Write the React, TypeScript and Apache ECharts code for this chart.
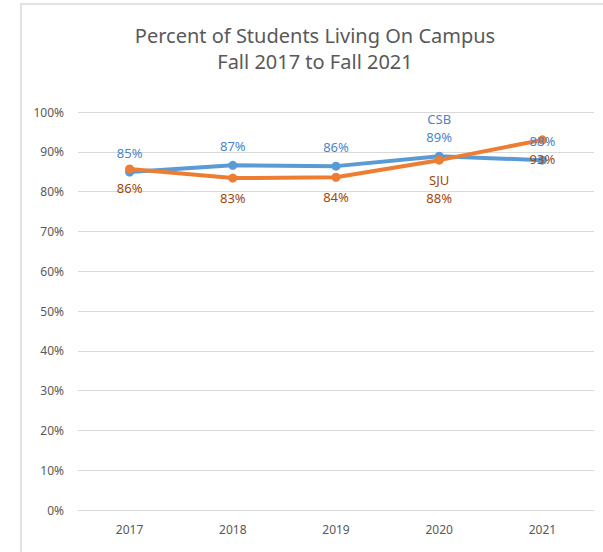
import React, { useEffect, useRef } from "react";
import * as echarts from "echarts";

const years = ["2017", "2018", "2019", "2020", "2021"];
const csbValues = [84.9, 86.6, 86.4, 88.9, 87.9];
const sjuValues = [85.7, 83.4, 83.6, 87.9, 93.0];
const csbLabels = ["85%", "87%", "86%", "89%", "88%"];
const sjuLabels = ["86%", "83%", "84%", "88%", "93%"];
const yTicks = [0, 10, 20, 30, 40, 50, 60, 70, 80, 90, 100];

const FONT = "Noto Sans";

export default function App() {
  const ref = useRef<HTMLDivElement>(null);
  useEffect(() => {
    if (!ref.current) return;
    const chart = echarts.init(ref.current, null, { renderer: "svg" });
    const mk = (vals: number[], labels: string[], name: string, showNameAt: number) =>
      vals.map((v, i) => ({
        value: v,
        label: {
          formatter: i === showNameAt ? `${name}\n${labels[i]}` : labels[i],
        },
      }));
    const csbLabelStyle = {
      show: true,
      position: "top",
      distance: 6,
      color: "#4a86c8",
      fontFamily: FONT,
      fontSize: 13,
      lineHeight: 18,
    };
    const sjuLabelStyle = {
      show: true,
      position: "bottom",
      distance: 6,
      color: "#9e480e",
      fontFamily: FONT,
      fontSize: 13,
      lineHeight: 18,
    };
    chart.setOption({
      animation: false,
      backgroundColor: "#ffffff",
      title: {
        text: "Percent of Students Living On Campus\nFall 2017 to Fall 2021",
        left: 315,
        textAlign: "center",
        top: 22,
        padding: 0,
        textStyle: {
          fontFamily: FONT,
          fontSize: 20,
          fontWeight: "normal",
          color: "#595959",
          lineHeight: 26,
        },
      },
      graphic: [
        {
          type: "rect",
          shape: { x: 21, y: 4, width: 700, height: 700 },
          style: { fill: "none", stroke: "#d9d9d9", lineWidth: 1.5 },
          silent: true,
        },
      ],
      grid: { left: 78, right: 9, top: 112, bottom: 42, containLabel: false },
      xAxis: {
        type: "category",
        data: years,
        axisLine: { show: false },
        axisTick: { show: false },
        axisLabel: { color: "#595959", fontFamily: FONT, fontSize: 12, margin: 13 },
      },
      yAxis: {
        type: "value",
        min: 0,
        max: 100,
        interval: 10,
        axisLine: { show: false },
        axisTick: { show: false },
        axisLabel: {
          color: "#595959",
          fontFamily: FONT,
          fontSize: 12,
          margin: 14,
          formatter: (v: number) => (yTicks.includes(v) ? `${v}%` : ""),
        },
        splitLine: { lineStyle: { color: "#d9d9d9", width: 1 } },
      },
      series: [
        {
          name: "CSB",
          type: "line",
          data: csbValues,
          color: "#5b9bd5",
          lineStyle: { width: 4, color: "#5b9bd5" },
          symbol: "circle",
          symbolSize: 9,
          itemStyle: { color: "#5b9bd5" },
          label: { show: false },
          z: 2,
        },
        {
          name: "SJU",
          type: "line",
          data: mk(sjuValues, sjuLabels, "SJU", 3),
          color: "#ed7d31",
          lineStyle: { width: 4, color: "#ed7d31" },
          symbol: "circle",
          symbolSize: 9,
          itemStyle: { color: "#ed7d31" },
          label: sjuLabelStyle,
          z: 3,
        },
        {
          name: "CSB labels",
          type: "line",
          data: mk(csbValues, csbLabels, "CSB", 3),
          lineStyle: { width: 0, opacity: 0 },
          symbol: "circle",
          symbolSize: 9,
          itemStyle: { color: "rgba(0,0,0,0)" },
          label: csbLabelStyle,
          silent: true,
          z: 4,
        },
      ],
    });
    return () => chart.dispose();
  }, []);
  return (
    <div
      ref={ref}
      style={{ position: "fixed", left: 0, top: 0, width: 603, height: 552 }}
    />
  );
}
